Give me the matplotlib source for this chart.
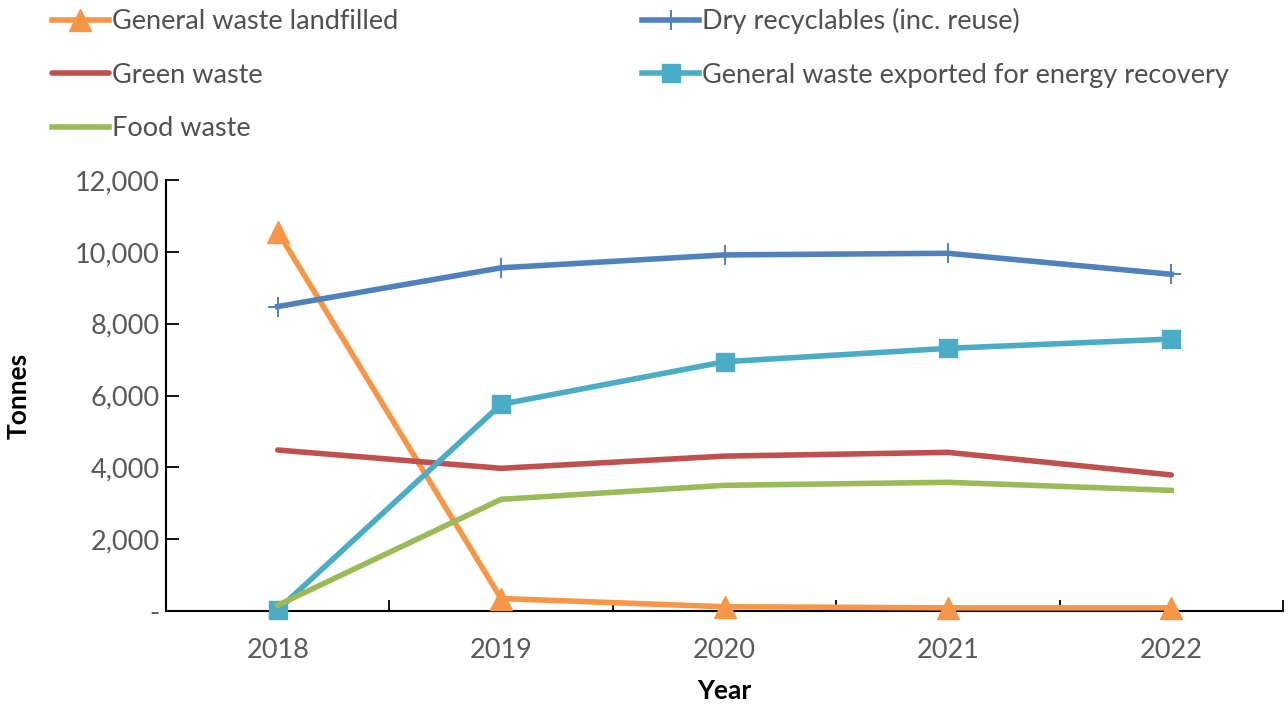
import matplotlib
matplotlib.use("Agg")
import matplotlib.pyplot as plt
from matplotlib.ticker import FixedLocator, FuncFormatter

years = ["2018", "2019", "2020", "2021", "2022"]

landfilled = [10570, 340, 110, 80, 80]
dry_recyclables = [8480, 9560, 9920, 9965, 9380]
green_waste = [4480, 3970, 4310, 4415, 3785]
energy_recovery = [20, 5755, 6940, 7315, 7575]
food_waste = [150, 3105, 3495, 3580, 3355]

labels = [
    "General waste landfilled",
    "Dry recyclables (inc. reuse)",
    "Green waste",
    "General waste exported for energy recovery",
    "Food waste",
]

plt.rcParams["font.family"] = ["Lato", "DejaVu Sans"]

fig = plt.figure(figsize=(12.88, 7.04), dpi=100)
ax = fig.add_axes([166 / 1288, 1 - 610.7 / 704, (1283 - 166) / 1288, (610.7 - 180.3) / 704])

x = list(range(len(years)))
lw = 4.0

h1, = ax.plot(x, landfilled, color="#F79646", lw=lw, marker="^", markersize=16,
              clip_on=False, zorder=3, label=labels[0])
h2, = ax.plot(x, dry_recyclables, color="#4F81BD", lw=lw, marker="+", markersize=14,
              markeredgewidth=1.4, clip_on=False, zorder=4, label=labels[1])
h3, = ax.plot(x, green_waste, color="#C0504D", lw=lw, solid_capstyle="round",
              clip_on=False, zorder=5, label=labels[2])
h4, = ax.plot(x, energy_recovery, color="#4BACC6", lw=lw, marker="s", markersize=13,
              clip_on=False, zorder=6, label=labels[3])
h5, = ax.plot(x, food_waste, color="#9BBB59", lw=lw, clip_on=False, zorder=7,
              label=labels[4])

ax.set_xlim(-0.5, len(years) - 0.5)
ax.set_ylim(0, 12000)

# category boundaries as tick marks, year labels centred between them
ax.xaxis.set_major_locator(FixedLocator([i - 0.5 for i in range(len(years) + 1)]))
ax.xaxis.set_minor_locator(FixedLocator(x))
ax.set_xticklabels([""] * (len(years) + 1))
ax.set_xticklabels(years, minor=True)
ax.tick_params(axis="x", which="major", direction="in", length=8, width=1.3, color="black")
ax.tick_params(axis="x", which="minor", length=0, pad=20, labelsize=19.5, labelcolor="#595959")

ax.yaxis.set_major_locator(FixedLocator(range(0, 12001, 2000)))
ax.yaxis.set_major_formatter(FuncFormatter(lambda v, p: "-" if v == 0 else f"{int(v):,}"))
ax.tick_params(axis="y", direction="in", length=9, width=1.3, color="black",
               labelsize=19.5, labelcolor="#595959", pad=4.5)

for side in ("top", "right"):
    ax.spines[side].set_visible(False)
for side in ("left", "bottom"):
    ax.spines[side].set_linewidth(1.5)

ax.set_xlabel("Year", fontsize=19, fontweight="bold", labelpad=11)
ax.set_ylabel("Tonnes", fontsize=19, fontweight="bold", labelpad=32)

leg = fig.legend([h1, h3, h5, h2, h4], [labels[0], labels[2], labels[4], labels[1], labels[3]],
                 ncol=2, loc="upper left", bbox_to_anchor=(52 / 1288, 1 - 8 / 704),
                 frameon=False, fontsize=19.5, handlelength=2.1, handletextpad=0.12,
                 columnspacing=9.0, labelspacing=1.05, labelcolor="#505050",
                 borderpad=0, borderaxespad=0)

fig.savefig("out.png", dpi=100)
